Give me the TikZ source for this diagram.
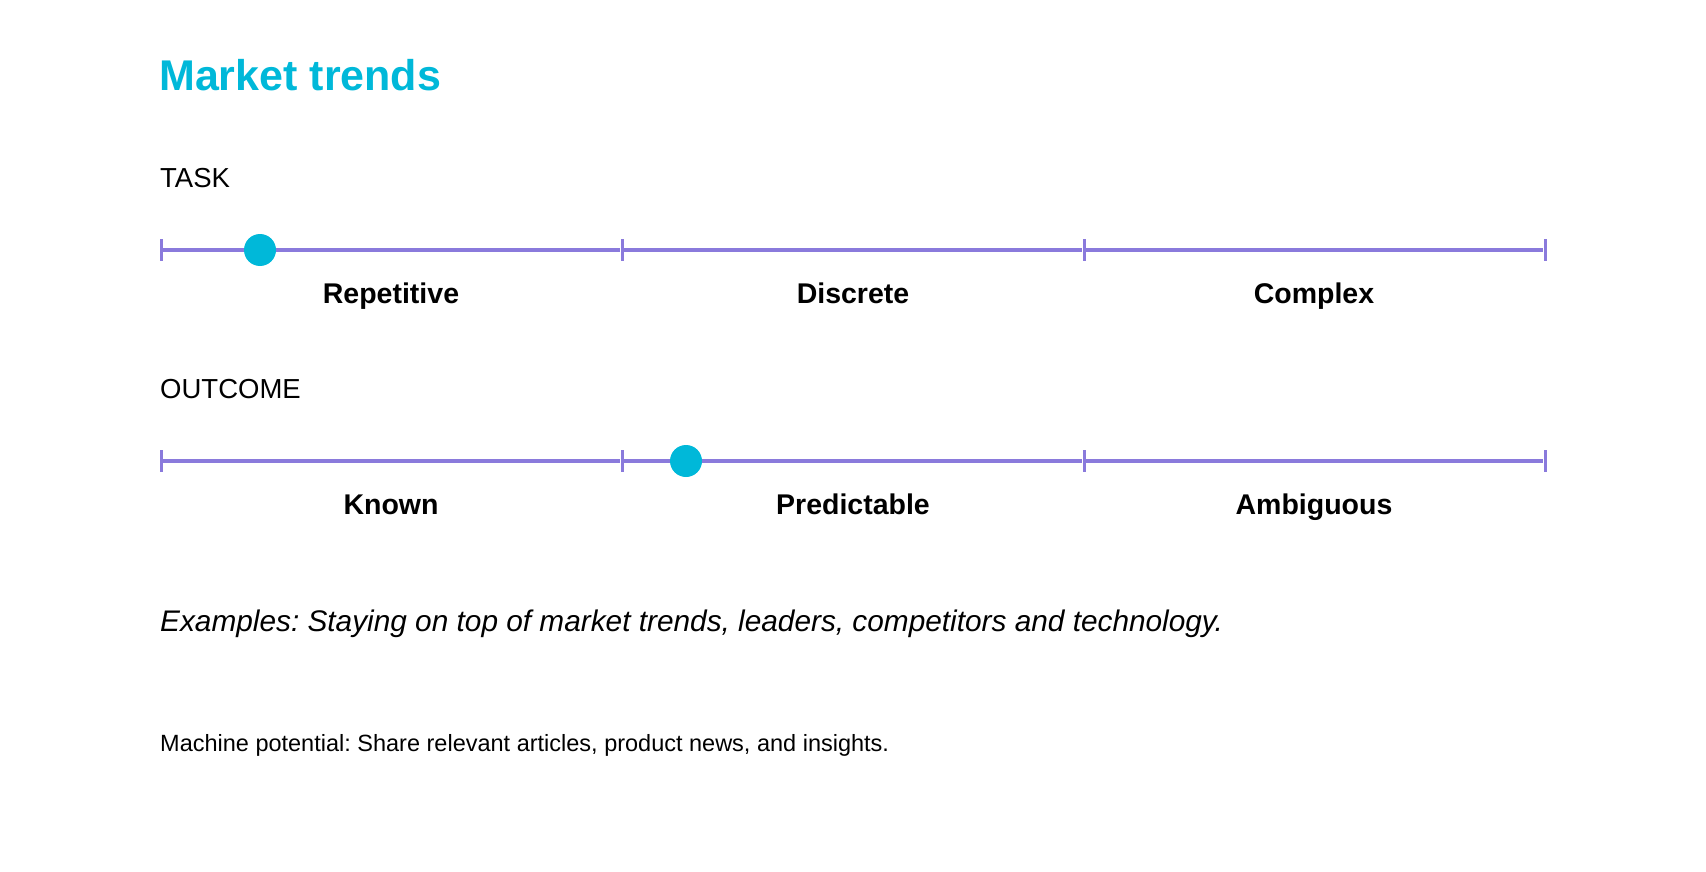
\documentclass[tikz,border=0pt]{standalone}
\usepackage{fontspec}
\setmainfont{Liberation Sans}
\usetikzlibrary{positioning}
\frenchspacing

\definecolor{trendcyan}{RGB}{0,184,217}
\definecolor{scalepurple}{RGB}{138,122,220}

\begin{document}
\begin{tikzpicture}[x=1pt, y=-1pt,
    heading/.style={anchor=base west, inner sep=0pt, font=\fontsize{27.5}{33}\selectfont},
    choice/.style={anchor=base, inner sep=0pt, font=\fontsize{28.5}{34}\selectfont\bfseries},
    tickmark/.style={fill=scalepurple, inner sep=0pt, minimum width=3pt, minimum height=22pt},
    scaleline/.style={draw=scalepurple, line width=3.5pt},
    marker/.style={circle, fill=trendcyan, inner sep=0pt, minimum size=32pt}]

    \useasboundingbox (0,0) rectangle (1706,872);

    \node[anchor=base west, inner sep=0pt, text=trendcyan, font=\fontsize{43}{51}\selectfont\bfseries] (title) at (159,91) {Market trends};

    % task scale
    \node[heading] (task) at (160,187) {TASK};

    \node[tickmark] (T0) at (161,250) {};
    \node[tickmark] (T1) at (622,250) {};
    \node[tickmark] (T2) at (1084,250) {};
    \node[tickmark] (T3) at (1545,250) {};

    \draw[scaleline] (T0) -- (T1);
    \draw[scaleline] (T1) -- (T2);
    \draw[scaleline] (T2) -- (T3);

    \node[marker] (taskdot) at (260,250) {};

    \node[choice] (repetitive) at (391,303) {Repetitive};
    \node[choice] (discrete) at (853,303) {Discrete};
    \node[choice] (complex) at (1314,303) {Complex};

    % outcome scale
    \node[heading] (outcome) at (160,398) {OUTCOME};

    \node[tickmark] (O0) at (161,461) {};
    \node[tickmark] (O1) at (622,461) {};
    \node[tickmark] (O2) at (1084,461) {};
    \node[tickmark] (O3) at (1545,461) {};

    \draw[scaleline] (O0) -- (O1);
    \draw[scaleline] (O1) -- (O2);
    \draw[scaleline] (O2) -- (O3);

    \node[marker] (outcomedot) at (686,461) {};

    \node[choice] (known) at (391,514) {Known};
    \node[choice] (predictable) at (853,514) {Predictable};
    \node[choice] (ambiguous) at (1314,514) {Ambiguous};

    \node[anchor=base west, inner sep=0pt, font=\fontsize{29.8}{36}\selectfont\itshape] (examples) at (160,631) {Examples: Staying on top of market trends, leaders, competitors and technology.};

    \node[anchor=base west, inner sep=0pt, font=\fontsize{23.5}{28}\selectfont] (machine) at (160,751) {Machine potential: Share relevant articles, product news, and insights.};

\end{tikzpicture}
\end{document}
